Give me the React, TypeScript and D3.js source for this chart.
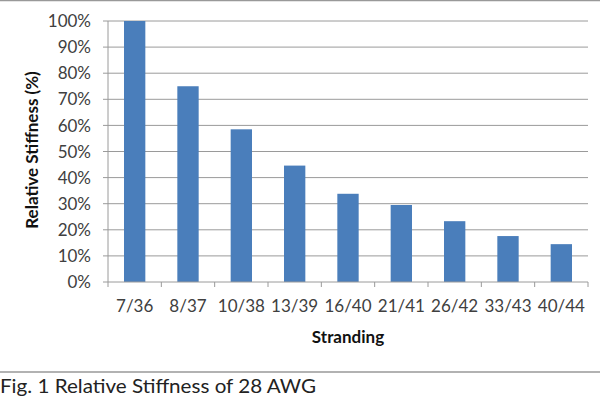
import React from "react";
import * as d3 from "d3";

const categories = ["7/36", "8/37", "10/38", "13/39", "16/40", "21/41", "26/42", "33/43", "40/44"];
const values = [100, 75, 58.5, 44.6, 33.8, 29.5, 23.3, 17.6, 14.5];
const yTicks = [0, 10, 20, 30, 40, 50, 60, 70, 80, 90, 100];

const W = 600;
const H = 400;
const left = 108;
const right = 588;
const top = 21;
const bottom = 282;
const font = "Lato, 'Open Sans', sans-serif";

export default function App() {
  const x = d3.scaleBand<string>().domain(categories).range([left, right]).paddingInner(0.6).paddingOuter(0.3);
  const xb = d3.scaleBand<string>().domain(categories).range([left, right]);
  const y = d3.scaleLinear().domain([0, 100]).range([bottom, top]);
  return (
    <svg width={W} height={H} style={{ position: "absolute", left: 0, top: 0, background: "#fff" }}>
      <line x1={0} x2={W} y1={0.5} y2={0.5} stroke="#999" strokeWidth={1.5} />
      {yTicks.map((t) => (
        <g key={t}>
          {t > 0 && <line x1={left} x2={right} y1={y(t)} y2={y(t)} stroke="#9a9a9a" strokeWidth={1} />}
          <line x1={left - 5} x2={left} y1={y(t)} y2={y(t)} stroke="#9a9a9a" />
          <text x={left - 17} y={y(t)} dy="0.36em" textAnchor="end" fontSize={17} fill="#404040" fontFamily={font}>
            {t}%
          </text>
        </g>
      ))}
      <line x1={left} x2={left} y1={top} y2={bottom} stroke="#9a9a9a" />
      {values.map((v, i) => (
        <rect key={categories[i]} x={x(categories[i])} width={x.bandwidth()} y={y(v)} height={y(0) - y(v)} fill="#4A7EBB" />
      ))}
      <line x1={left} x2={right} y1={bottom} y2={bottom} stroke="#9a9a9a" />
      {[...categories.map((c) => xb(c) as number), right].map((px, i) => (
        <line key={i} x1={px} x2={px} y1={bottom} y2={bottom + 5} stroke="#9a9a9a" />
      ))}
      {categories.map((c) => (
        <text key={c} x={(xb(c) as number) + xb.bandwidth() / 2} y={312} textAnchor="middle" fontSize={17} fill="#404040" fontFamily={font}>
          {c}
        </text>
      ))}
      <text x={(left + right) / 2} y={343} textAnchor="middle" fontSize={17} fontWeight="bold" fill="#111" fontFamily={font}>
        Stranding
      </text>
      <text transform={`translate(38, 150) rotate(-90)`} textAnchor="middle" fontSize={17} fontWeight="bold" fill="#111" fontFamily={font}>
        Relative Stiffness (%)
      </text>
      <line x1={0} x2={W} y1={372} y2={372} stroke="#999" strokeWidth={1.5} />
      <text x={0} y={393} fontSize={19} fill="#222" fontFamily={font} textLength={316} lengthAdjust="spacingAndGlyphs">
        Fig. 1 Relative Stiffness of 28 AWG
      </text>
    </svg>
  );
}
